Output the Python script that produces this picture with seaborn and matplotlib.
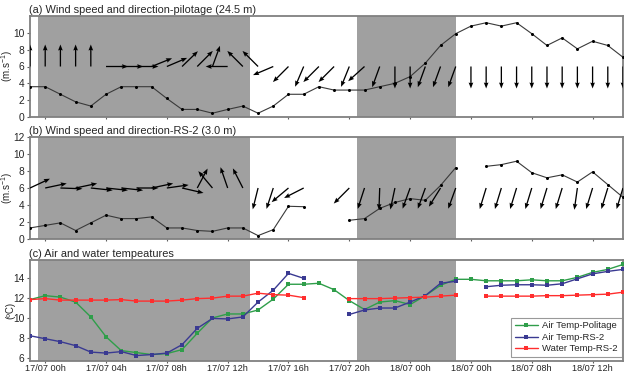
import numpy as np
import pandas as pd
import matplotlib
matplotlib.use("Agg")
import matplotlib.pyplot as plt
import seaborn as sns

# ---------------- data ----------------
hours = list(range(-1, 39))  # hourly, 16/07 23h .. 18/07 14h
tick_hours = [0, 4, 8, 12, 16, 20, 24, 28, 32, 36]
tick_labels = ["17/07 00h", "17/07 04h", "17/07 08h", "17/07 12h", "17/07 16h",
               "17/07 20h", "18/07 00h", "18/07 00h", "18/07 08h", "18/07 12h"]
night_periods = [(-0.5, 13.5), (20.5, 27.0)]

nan = np.nan
speed_pilotage = [3.6, 3.6, 2.7, 1.8, 1.3, 2.7, 3.6, 3.6, 3.6, 2.2, 0.9, 0.9, 0.45, 0.9,
                  1.3, 0.45, 1.3, 2.7, 2.7, 3.6, 3.2, 3.2, 3.2, 3.6, 4.0, 4.8, 6.4, 8.5,
                  9.9, 10.8, 11.2, 10.8, 11.2, 9.9, 8.5, 9.4, 8.1, 9.0, 8.5, 7.1]
dir_pilotage = [90, 90, 90, 90, 90, 0, 0, 0, 22, 23, 44, 45, 70, 180, 135, 135, 203, 225,
                247, 225, 225, 248, 222, 250, 270, 270, 250, 250, 250, 270, 270, 270, 270,
                270, 270, 270, 270, 270, 270, 270]

speed_rs2 = [1.3, 1.6, 1.9, 1.0, 1.9, 2.8, 2.4, 2.4, 2.6, 1.3, 1.3, 1.0, 0.9, 1.3, 1.3,
             0.4, 1.1, 3.85, 3.8, nan, nan, 2.2, 2.4, 3.6, 4.3, 4.75, 4.55, 6.3, 8.4, nan,
             8.55, 8.75, 9.15, 7.8, 7.2, 7.55, 6.7, 7.9, 6.4, 4.9]
dir_rs2 = [25, 12, -2, 12, -6, -6, -6, 0, 12, 8, -13, 62, 130, 109, 117, 256, 252, 220,
           207, nan, nan, 225, 252, 268, 258, 250, 250, 238, 250, nan, 253, 253, 253,
           253, 253, 253, 262, 253, 253, 253]

air_pilotage = [11.85, 12.25, 12.1, 11.6, 10.1, 8.1, 6.7, 6.5, 6.3, 6.4, 6.8, 8.45, 10.0,
                10.4, 10.4, 10.8, 11.9, 13.4, 13.4, 13.5, 12.85, 11.75, 10.85, 11.6, 11.75,
                11.35, 12.25, 13.3, 13.9, 13.9, 13.75, 13.75, 13.75, 13.85, 13.75, 13.75,
                14.1, 14.6, 14.9, 15.4]
air_rs2 = [8.2, 7.9, 7.6, 7.2, 6.55, 6.45, 6.6, 6.2, 6.3, 6.45, 7.3, 8.95, 9.95, 9.9, 10.1,
           11.6, 12.8, 14.5, 14.0, nan, nan, 10.35, 10.8, 11.0, 11.0, 11.6, 12.25, 13.5,
           13.7, nan, 13.15, 13.3, 13.35, 13.35, 13.3, 13.45, 13.95, 14.45, 14.7, 14.9]
water_rs2 = [11.85, 11.95, 11.8, 11.8, 11.8, 11.8, 11.85, 11.7, 11.7, 11.7, 11.8, 11.95,
             12.0, 12.2, 12.2, 12.5, 12.35, 12.3, 12.05, nan, nan, 11.95, 11.95, 11.95,
             12.0, 12.05, 12.1, 12.2, 12.3, nan, 12.2, 12.2, 12.2, 12.2, 12.25, 12.25,
             12.3, 12.35, 12.4, 12.6]

temp_series = [("Air Temp-Politage", air_pilotage, "#2f9e4a"),
               ("Air Temp-RS-2", air_rs2, "#3a3a92"),
               ("Water Temp-RS-2", water_rs2, "#ff2e2e")]

# ---------------- style ----------------
sns.set_style("white")
plt.rcParams["font.family"] = ["Liberation Sans", "DejaVu Sans"]
plt.rcParams["mathtext.default"] = "regular"

W, H = 624, 375
fig = plt.figure(figsize=(W / 100, H / 100), dpi=100)
left, right = 30 / W, 623 / W
panels = [(16, 117), (137, 239), (260, 361)]
axes = [fig.add_axes([left, 1 - b / H, right - left, (b - t) / H]) for t, b in panels]


def segmented(values):
    """DataFrame with a segment id so gaps (NaN) break the line."""
    seg, cur, prev_nan = [], 0, False
    for v in values:
        if np.isnan(v):
            prev_nan = True
        else:
            if prev_nan:
                cur += 1
            prev_nan = False
        seg.append(cur)
    df = pd.DataFrame({"hour": hours, "value": values, "seg": seg})
    return df.dropna()


def base(ax, ylim, yticks):
    for s, e in night_periods:
        ax.axvspan(s, e, color="#a0a0a0", lw=0, zorder=0)
    ax.set_xlim(-1, 38)
    ax.set_ylim(*ylim)
    ax.set_yticks(yticks)
    ax.set_xticks(tick_hours)
    ax.tick_params(axis="y", labelsize=7.4, length=2.5, width=0.8, color="#606060", pad=1.5,
                   direction="out", left=True)
    ax.tick_params(axis="x", labelsize=6.6, length=1.5, width=0.8, color="#606060", pad=0.8,
                   direction="out", bottom=True)
    for sp in ax.spines.values():
        sp.set_color("#808080")
        sp.set_linewidth(1.3)


def finish(ax, ylabel, title):
    ax.set_xlabel("")
    ax.set_ylabel(ylabel, fontsize=7)
    ax.yaxis.set_label_coords(-0.025, 0.5)
    ax.set_title(title, loc="left", fontsize=7.9, pad=2.5, x=-0.002)


def wind(ax, speed, direc, title):
    df = segmented(speed)
    sns.lineplot(data=df, x="hour", y="value", units="seg", estimator=None, ax=ax,
                 color="#3a3a3a", lw=0.8, marker="o", markersize=2.2,
                 markeredgewidth=0, markerfacecolor="black", zorder=3)
    d = np.array(direc, dtype=float)
    ok = ~np.isnan(d)
    x = np.array(hours, dtype=float)[ok]
    th = np.deg2rad(d[ok])
    ax.quiver(x, np.full(x.size, 6.0), np.cos(th), np.sin(th), angles="uv",
              scale_units="dots", scale=1 / 22.0, pivot="tail", units="dots",
              width=1.3, headwidth=3.6, headlength=4.6, headaxislength=4.2,
              color="black", zorder=4)
    finish(ax, "(m.s$^{-1}$)", title)


base(axes[0], (0, 12), [0, 2, 4, 6, 8, 10])
wind(axes[0], speed_pilotage, dir_pilotage, "(a) Wind speed and direction-pilotage (24.5 m)")
base(axes[1], (0, 12), [0, 2, 4, 6, 8, 10, 12])
wind(axes[1], speed_rs2, dir_rs2, "(b) Wind speed and direction-RS-2 (3.0 m)")

ax = axes[2]
base(ax, (5.65, 15.85), [6, 8, 10, 12, 14])
handles = []
for name, vals, col in temp_series:
    df = segmented(vals)
    sns.lineplot(data=df, x="hour", y="value", units="seg", estimator=None, ax=ax,
                 color=col, lw=1.0, marker="s", markersize=2.4, markeredgewidth=0,
                 zorder=3)
    handles.append(plt.Line2D([], [], color=col, lw=1.0, marker="s", markersize=2.4,
                              markeredgewidth=0, label=name))
finish(ax, "(ºC)", "(c) Air and water tempeatures")
ax.set_xticklabels(tick_labels)
leg = ax.legend(handles=handles, loc="lower right", bbox_to_anchor=(0.998, 0.04),
                fontsize=6.8, frameon=True, fancybox=False, handlelength=2.4,
                borderpad=0.4, labelspacing=0.25, handletextpad=0.5, borderaxespad=0)
leg.get_frame().set_edgecolor("#808080")
leg.get_frame().set_linewidth(0.8)

for a in axes[:2]:
    a.set_xticklabels([])

fig.savefig("out.png", dpi=100)
